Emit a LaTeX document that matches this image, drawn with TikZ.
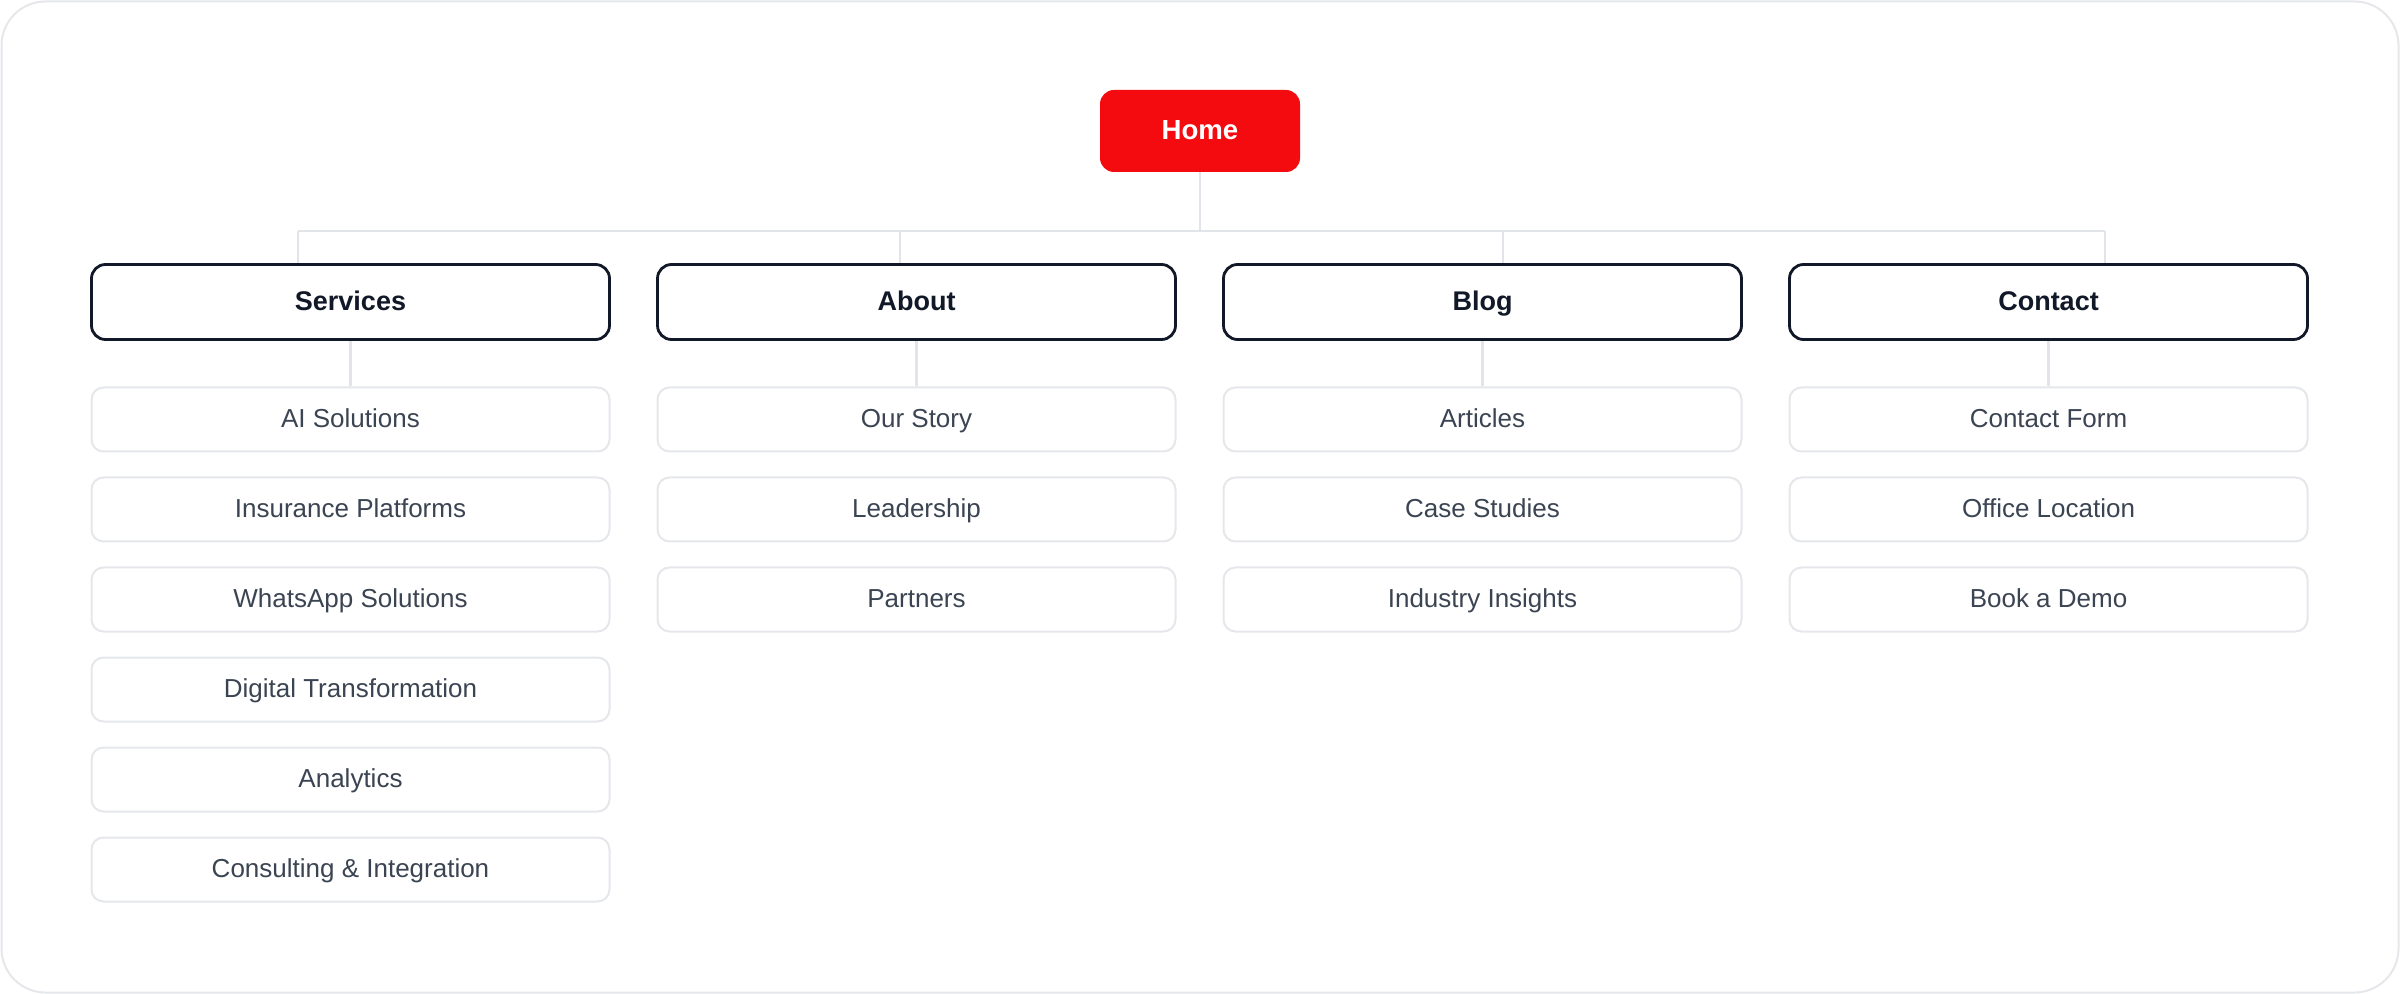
\documentclass[tikz,border=0pt]{standalone}
\usepackage{fontspec}
\setmainfont{Liberation Sans}
\definecolor{homered}{HTML}{F40B0F}
\definecolor{navy}{HTML}{111827}
\definecolor{childtext}{HTML}{3B4452}
\definecolor{lightline}{HTML}{E1E4E9}
\definecolor{frameline}{HTML}{E5E7EB}
\tikzset{
  homebox/.style={rectangle, rounded corners=7pt, fill=homered, draw=none,
    minimum width=100pt, minimum height=41pt, inner sep=0pt,
    text height=0.82em, text depth=0pt,
    text=white, font=\fontsize{13.8}{16}\selectfont\bfseries},
  sectionbox/.style={rectangle, rounded corners=7pt, draw=navy, line width=1.4pt, fill=white,
    minimum width=259pt, minimum height=37.5pt, inner sep=0pt,
    text height=0.84em, text depth=0pt,
    text=navy, font=\fontsize{13.5}{16}\selectfont\bfseries},
  childbox/.style={rectangle, rounded corners=6pt, draw=frameline, line width=1pt, fill=white,
    minimum width=259pt, minimum height=32pt, inner sep=0pt,
    text height=0.84em, text depth=0pt,
    text=childtext, font=\fontsize{13}{16}\selectfont},
  conn/.style={draw=lightline, line width=1.1pt},
}
\begin{document}
\begin{tikzpicture}[x=0.5pt,y=-0.5pt]
\useasboundingbox (0,0) rectangle (2400,994);
\draw[frameline, line width=1pt, rounded corners=22pt] (1.5,1.5) rectangle (2398.5,992.5);

\node[homebox] (home) at (1200,131) {Home};

\node[sectionbox] (s) at (350.5,302) {Services};
\node[sectionbox] (a) at (916.5,302) {About};
\node[sectionbox] (b) at (1482.5,302) {Blog};
\node[sectionbox] (c) at (2048.5,302) {Contact};

\coordinate (d1) at (297.7,231);
\coordinate (d2) at (900.1,231);
\coordinate (d3) at (1502.6,231);
\coordinate (d4) at (2105,231);

\draw[conn] (home.south) -- (home.south |- d1);
\draw[conn] (d1) -- (d4);
\draw[conn] (d1) -- (d1 |- s.north);
\draw[conn] (d2) -- (d2 |- a.north);
\draw[conn] (d3) -- (d3 |- b.north);
\draw[conn] (d4) -- (d4 |- c.north);

% Services children
\node[childbox] (s1) at (350.5,419.5) {AI Solutions};
\node[childbox] (s2) at (350.5,509.5) {Insurance Platforms};
\node[childbox] (s3) at (350.5,599.5) {WhatsApp Solutions};
\node[childbox] (s4) at (350.5,689.5) {Digital Transformation};
\node[childbox] (s5) at (350.5,779.5) {Analytics};
\node[childbox] (s6) at (350.5,869.5) {Consulting \& Integration};

% About children
\node[childbox] (a1) at (916.5,419.5) {Our Story};
\node[childbox] (a2) at (916.5,509.5) {Leadership};
\node[childbox] (a3) at (916.5,599.5) {Partners};

% Blog children
\node[childbox] (b1) at (1482.5,419.5) {Articles};
\node[childbox] (b2) at (1482.5,509.5) {Case Studies};
\node[childbox] (b3) at (1482.5,599.5) {Industry Insights};

% Contact children
\node[childbox] (c1) at (2048.5,419.5) {Contact Form};
\node[childbox] (c2) at (2048.5,509.5) {Office Location};
\node[childbox] (c3) at (2048.5,599.5) {Book a Demo};

\draw[conn] (s.south) -- (s1.north);
\draw[conn] (a.south) -- (a1.north);
\draw[conn] (b.south) -- (b1.north);
\draw[conn] (c.south) -- (c1.north);
\end{tikzpicture}
\end{document}
